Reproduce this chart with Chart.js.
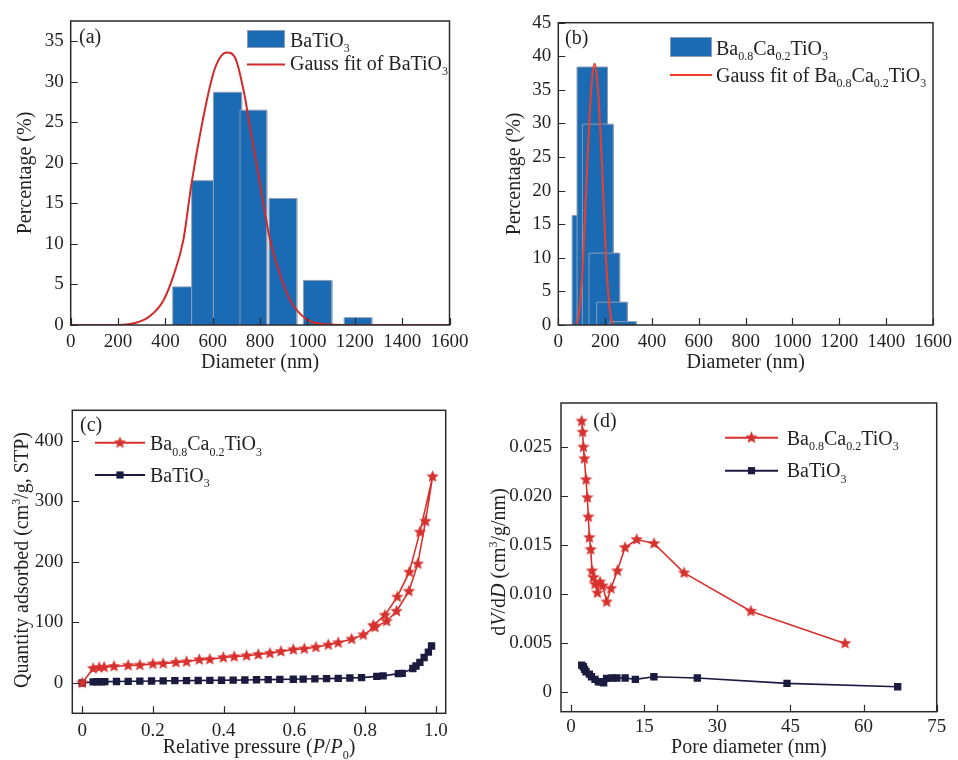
<!DOCTYPE html>
<html>
<head>
<meta charset="utf-8">
<script src="https://cdn.jsdelivr.net/npm/chart.js@4.4.0/dist/chart.umd.min.js"></script>
<style>
  body { margin: 0; background: #fff; }
  #wrap { position: relative; width: 958px; height: 760px; }
  canvas { position: absolute; }
</style>
</head>
<body>
<div id="wrap">
  <canvas id="chartA" width="480" height="380" style="left:0;top:0"></canvas>
  <canvas id="chartB" width="478" height="380" style="left:480px;top:0"></canvas>
  <canvas id="chartC" width="480" height="380" style="left:0;top:380px"></canvas>
  <canvas id="chartD" width="478" height="380" style="left:480px;top:380px"></canvas>
</div>
<script>
// (a) BaTiO3 particle size histogram (bin start, bin end, %) and its Gauss fit
const btoBinLo = [431, 511, 603, 715, 838, 983, 1155];
const btoBinHi = [511, 603, 722, 828, 955, 1103, 1272];
const btoPct = [4.7, 17.8, 28.7, 26.5, 15.6, 5.5, 0.9];
const btoFitX = [0, 200, 279, 335, 391, 433, 476, 511, 560, 602, 631, 661, 694, 736, 757, 792, 842, 870, 926, 997, 1081, 1150, 1600];
const btoFitY = [0, 0, 0.3, 1.1, 3.0, 6.0, 10.5, 17.6, 25.6, 31.0, 33.0, 33.6, 33.0, 28.1, 24.4, 18.7, 10.5, 7.5, 3.1, 0.7, 0.08, 0, 0];

// (b) Ba0.8Ca0.2TiO3 particle size histogram and Gauss fit
const bctBinLo = [59, 80, 103, 131, 164, 218];
const bctBinHi = [189, 210, 235, 262, 295, 333];
const bctPct = [16.3, 38.4, 29.9, 10.7, 3.4, 0.5];
const bctFitX = [75, 85, 95, 105, 115, 125, 135, 145, 155, 165, 175, 185, 195, 205, 215, 225, 235];
const bctFitY = [0, 1, 4, 9, 17, 25, 32, 37, 38.9, 37, 32, 25, 17, 9, 4, 1, 0];

// (c) N2 isotherms: relative pressure vs quantity adsorbed
const bctIsoP = [0, 0.031, 0.048, 0.062, 0.09, 0.13, 0.163, 0.2, 0.229, 0.265, 0.295, 0.331, 0.361, 0.399, 0.43, 0.465, 0.498, 0.531, 0.562, 0.597, 0.628, 0.661, 0.696, 0.724, 0.762, 0.795, 0.828, 0.861, 0.889, 0.924, 0.949, 0.971, 0.991,
                 0.955, 0.925, 0.891, 0.856, 0.823];
const bctIsoQ = [0, 24, 25.5, 26, 27.5, 29, 29.5, 31.5, 32, 34, 35, 38.5, 39, 42, 43.5, 45, 47, 49, 52, 55, 56.5, 59, 63, 66.5, 72.5, 79.5, 92, 102, 118.5, 151.5, 196.5, 267, 340.5,
                 249, 183, 142, 112, 95];
const btoIsoP = [0, 0.031, 0.042, 0.055, 0.064, 0.097, 0.13, 0.163, 0.196, 0.229, 0.262, 0.295, 0.328, 0.361, 0.394, 0.427, 0.46, 0.493, 0.526, 0.559, 0.597, 0.625, 0.658, 0.691, 0.724, 0.757, 0.79, 0.833, 0.851, 0.894, 0.905, 0.935, 0.944, 0.955, 0.967, 0.979, 0.988];
const btoIsoQ = [0, 1.8, 2, 2.1, 2.2, 2.5, 2.8, 3, 3.3, 3.5, 3.8, 4, 4.2, 4.4, 4.6, 4.8, 5, 5.3, 5.6, 5.9, 6.2, 6.5, 6.9, 7.3, 7.7, 8.2, 8.8, 11, 11.7, 15.5, 16, 24, 28, 34, 42, 51, 61];

// (d) pore size distribution: pore diameter (nm) vs dV/dD
const bctPoreD = [2.19, 2.39, 2.53, 2.74, 3.08, 3.35, 3.56, 3.76, 4.04, 4.31, 4.58, 4.92, 5.4, 5.95, 6.5, 7.33, 8.2, 9.5, 11.08, 13.48, 17.03, 23.19, 36.9, 56.2];
const bctPoreV = [0.02765, 0.02653, 0.0250, 0.02381, 0.02167, 0.01983, 0.01786, 0.01575, 0.01453, 0.01235, 0.01167, 0.01099, 0.0101, 0.01122, 0.01082, 0.00918, 0.01055, 0.01235, 0.01473, 0.01555, 0.01514, 0.01214, 0.00823, 0.00494];
const btoPoreD = [2.19, 2.53, 2.8, 3.08, 3.76, 4.2, 4.92, 5.6, 6.2, 6.7, 7.3, 8.4, 9.4, 11.1, 13.2, 17, 25.9, 44.3, 67];
const btoPoreV = [0.00272, 0.00255, 0.00228, 0.00204, 0.0018, 0.00153, 0.00126, 0.00102, 0.00102, 0.00092, 0.00136, 0.0014, 0.0014, 0.0014, 0.00126, 0.00153, 0.0014, 0.00085, 0.00051];

// tick values
const diamTicks = [0, 200, 400, 600, 800, 1000, 1200, 1400, 1600];
const pctTicksA = [0, 5, 10, 15, 20, 25, 30, 35];
const pctTicksB = [0, 5, 10, 15, 20, 25, 30, 35, 40, 45];
const pressTicks = [0, 0.2, 0.4, 0.6, 0.8, 1.0];
const qtyTicks = [0, 100, 200, 300, 400];
const poreTicks = [0, 15, 30, 45, 60, 75];
const dvTicks = [0, 0.005, 0.010, 0.015, 0.020, 0.025];

const SERIF = '"Liberation Serif", "Times New Roman", serif';
const INK = '#231f20';
const BAR_BLUE = '#1a6ab4';
const BAR_EDGE = '#8b9cb4';
const RED = '#d7312e';
const NAVY = '#1b1b40';

Chart.defaults.font.family = SERIF;
Chart.defaults.font.size = 19;
Chart.defaults.color = INK;

function starImage(r, color) {
  const c = document.createElement('canvas');
  const size = Math.ceil(r * 2 + 2);
  c.width = c.height = size;
  const g = c.getContext('2d');
  g.beginPath();
  for (let i = 0; i < 10; i++) {
    const rad = i % 2 ? r * 0.45 : r;
    const a = -Math.PI / 2 + i * Math.PI / 5;
    g.lineTo(size / 2 + rad * Math.cos(a), size / 2 + rad * Math.sin(a));
  }
  g.closePath();
  g.fillStyle = color;
  g.fill();
  return c;
}
const STAR = starImage(6.5, RED);

// rich text: parts are [text, kind] with kind 'sub' | 'sup' | 'i' | undefined
function fontFor(kind, size) {
  const s = (kind === 'sub' || kind === 'sup') ? Math.round(size * 0.62) : size;
  return (kind === 'i' ? 'italic ' : '') + s + 'px ' + SERIF;
}
function richWidth(ctx, parts, size) {
  let w = 0;
  parts.forEach(([t, k]) => { ctx.font = fontFor(k, size); w += ctx.measureText(t).width; });
  return w;
}
function drawRich(ctx, x, y, parts, center) {
  const size = 20;
  ctx.save();
  ctx.textBaseline = 'alphabetic';
  ctx.textAlign = 'left';
  ctx.fillStyle = INK;
  let cx = center ? x - richWidth(ctx, parts, size) / 2 : x;
  parts.forEach(([t, k]) => {
    ctx.font = fontFor(k, size);
    const dy = k === 'sub' ? size * 0.28 : k === 'sup' ? -size * 0.4 : 0;
    ctx.fillText(t, cx, y + dy);
    cx += ctx.measureText(t).width;
  });
  ctx.restore();
}
function yTitle(ctx, x, y, parts) {
  ctx.save();
  ctx.translate(x, y);
  ctx.rotate(-Math.PI / 2);
  drawRich(ctx, 0, 0, parts, true);
  ctx.restore();
}
function legendLine(ctx, x0, x1, y, color, marker) {
  ctx.save();
  ctx.strokeStyle = color;
  ctx.lineWidth = 2;
  ctx.beginPath();
  ctx.moveTo(x0, y);
  ctx.lineTo(x1, y);
  ctx.stroke();
  const mx = (x0 + x1) / 2;
  if (marker === 'star') ctx.drawImage(STAR, mx - STAR.width / 2, y - STAR.height / 2);
  if (marker === 'square') { ctx.fillStyle = color; ctx.fillRect(mx - 3.6, y - 3.6, 7.2, 7.2); }
  ctx.restore();
}

// frame box, inward ticks and annotations drawn over the plot
function decor(extras) {
  return {
    id: 'decor',
    afterDraw(chart) {
      const ctx = chart.ctx;
      const a = chart.chartArea;
      const sx = chart.scales.x, sy = chart.scales.y;
      ctx.save();
      ctx.strokeStyle = '#2b2b2b';
      ctx.lineWidth = 1.5;
      ctx.strokeRect(a.left, a.top, a.right - a.left, a.bottom - a.top);
      ctx.lineWidth = 1.2;
      ctx.beginPath();
      sx.ticks.forEach(t => {
        const px = Math.round(sx.getPixelForValue(t.value)) + 0.5;
        ctx.moveTo(px, a.bottom);
        ctx.lineTo(px, a.bottom - 7);
      });
      sy.ticks.forEach(t => {
        const py = Math.round(sy.getPixelForValue(t.value)) + 0.5;
        ctx.moveTo(a.left, py);
        ctx.lineTo(a.left + 7, py);
      });
      ctx.stroke();
      ctx.restore();
      extras(ctx, a);
    }
  };
}

function xAxis(min, max, ticks, height, pad, fmt) {
  return {
    type: 'linear', min, max,
    grid: { display: false, drawTicks: false },
    border: { display: false },
    afterBuildTicks: s => { s.ticks = ticks.map(v => ({ value: v })); },
    afterFit: s => { s.height = height; },
    ticks: { padding: pad, maxRotation: 0, autoSkip: false, callback: fmt || (v => String(v)) }
  };
}
function yAxis(min, max, ticks, width, pad, fmt) {
  return {
    type: 'linear', min, max,
    grid: { display: false, drawTicks: false },
    border: { display: false },
    afterBuildTicks: s => { s.ticks = ticks.map(v => ({ value: v })); },
    afterFit: s => { s.width = width; },
    ticks: { padding: pad, autoSkip: false, callback: fmt || (v => String(v)) }
  };
}

function histogram(lo, hi, pct) {
  return pct.map((h, i) => ({
    data: [{ x: lo[i], y: 0 }, { x: lo[i], y: h }, { x: hi[i], y: h }, { x: hi[i], y: 0 }],
    fill: 'origin',
    backgroundColor: BAR_BLUE,
    borderColor: BAR_EDGE,
    borderWidth: 1,
    pointRadius: 0,
    order: 100 - i
  }));
}
function xy(xs, ys) { return xs.map((x, i) => ({ x, y: ys[i] })); }

function baseOptions(padding, scales) {
  return {
    responsive: false,
    animation: false,
    events: [],
    layout: { padding },
    scales,
    plugins: { legend: { display: false }, tooltip: { enabled: false } }
  };
}

const batio3 = [['BaTiO'], ['3', 'sub']];
const bct = [['Ba'], ['0.8', 'sub'], ['Ca'], ['0.2', 'sub'], ['TiO'], ['3', 'sub']];

// (a)
new Chart(document.getElementById('chartA'), {
  type: 'line',
  data: {
    datasets: [
      ...histogram(btoBinLo, btoBinHi, btoPct),
      { data: xy(btoFitX, btoFitY), borderColor: '#d22a2a', borderWidth: 2, pointRadius: 0,
        cubicInterpolationMode: 'monotone', fill: false, order: 0 }
    ]
  },
  options: baseOptions({ left: 0, top: 21, right: 30.5, bottom: 0 }, {
    x: xAxis(0, 1600, diamTicks, 55, 6),
    y: yAxis(0, 37.5, pctTicksA, 70.7, 7)
  }),
  plugins: [decor((ctx, a) => {
    ctx.fillStyle = BAR_BLUE;
    ctx.fillRect(247, 30, 38, 18);
    ctx.strokeStyle = BAR_EDGE;
    ctx.lineWidth = 1;
    ctx.strokeRect(247.5, 30.5, 37, 17);
    drawRich(ctx, 290, 46.5, batio3);
    legendLine(ctx, 247, 285, 64.5, '#d22a2a');
    drawRich(ctx, 290, 69.5, [['Gauss fit of BaTiO'], ['3', 'sub']]);
    drawRich(ctx, 79, 43, [['(a)']]);
    drawRich(ctx, (a.left + a.right) / 2, 368, [['Diameter (nm)']], true);
    yTitle(ctx, 31, (a.top + a.bottom) / 2, [['Percentage (%)']]);
  })]
});

// (b)
new Chart(document.getElementById('chartB'), {
  type: 'line',
  data: {
    datasets: [
      ...histogram(bctBinLo, bctBinHi, bctPct),
      { data: xy(bctFitX, bctFitY), borderColor: '#ef3e28', borderWidth: 2, pointRadius: 0,
        cubicInterpolationMode: 'monotone', fill: false, order: 0 }
    ]
  },
  options: baseOptions({ left: 0, top: 22.7, right: 19.7, bottom: 0 }, {
    x: xAxis(0, 1600, diamTicks, 55, 6),
    y: yAxis(0, 45, pctTicksB, 78.3, 7)
  }),
  plugins: [decor((ctx, a) => {
    ctx.fillStyle = BAR_BLUE;
    ctx.fillRect(190, 37, 42, 20);
    ctx.strokeStyle = BAR_EDGE;
    ctx.lineWidth = 1;
    ctx.strokeRect(190.5, 37.5, 41, 19);
    drawRich(ctx, 236, 54.5, bct);
    legendLine(ctx, 190, 232, 75, '#ef3e28');
    drawRich(ctx, 236, 81.5, [['Gauss fit of Ba'], ['0.8', 'sub'], ['Ca'], ['0.2', 'sub'], ['TiO'], ['3', 'sub']]);
    drawRich(ctx, 85, 44, [['(b)']]);
    drawRich(ctx, (a.left + a.right) / 2, 368, [['Diameter (nm)']], true);
    yTitle(ctx, 40, (a.top + a.bottom) / 2, [['Percentage (%)']]);
  })]
});

// (c)
new Chart(document.getElementById('chartC'), {
  type: 'line',
  data: {
    datasets: [
      { data: xy(bctIsoP, bctIsoQ), borderColor: RED, borderWidth: 1.6, pointStyle: STAR, pointRadius: 6, order: 0 },
      { data: xy(btoIsoP, btoIsoQ), borderColor: NAVY, backgroundColor: NAVY, borderWidth: 1.6,
        pointStyle: 'rect', pointRadius: 5.2, pointBorderWidth: 0, order: 1 }
    ]
  },
  options: baseOptions({ left: 0, top: 30.3, right: 34.3, bottom: 0 }, {
    x: xAxis(-0.028, 1.028, pressTicks, 46.7, 6, v => v === 0 ? '0' : v.toFixed(1)),
    y: yAxis(-50, 450, qtyTicks, 72.3, 9)
  }),
  plugins: [decor((ctx, a) => {
    legendLine(ctx, 95, 145, 62.7, RED, 'star');
    drawRich(ctx, 150, 70, bct);
    legendLine(ctx, 95, 145, 95, NAVY, 'square');
    drawRich(ctx, 150, 101.7, batio3);
    drawRich(ctx, 80, 51, [['(c)']]);
    drawRich(ctx, (a.left + a.right) / 2, 373,
      [['Relative pressure ('], ['P', 'i'], ['/'], ['P', 'i'], ['0', 'sub'], [')']], true);
    yTitle(ctx, 28, 180, [['Quantity adsorbed (cm'], ['3', 'sup'], ['/g, STP)']]);
  })]
});

// (d)
new Chart(document.getElementById('chartD'), {
  type: 'line',
  data: {
    datasets: [
      { data: xy(bctPoreD, bctPoreV), borderColor: RED, borderWidth: 1.6, pointStyle: STAR, pointRadius: 6, order: 0 },
      { data: xy(btoPoreD, btoPoreV), borderColor: NAVY, backgroundColor: NAVY, borderWidth: 1.6,
        pointStyle: 'rect', pointRadius: 5.2, pointBorderWidth: 0, order: 1 }
    ]
  },
  options: baseOptions({ left: 0, top: 23, right: 21.3, bottom: 0 }, {
    x: xAxis(-2.05, 75, poreTicks, 48.3, 4),
    y: yAxis(-0.00204, 0.0295, dvTicks, 81, 9, v => v === 0 ? '0' : v.toFixed(3))
  }),
  plugins: [decor((ctx, a) => {
    legendLine(ctx, 245, 298, 57.7, RED, 'star');
    drawRich(ctx, 306.7, 64.5, bct);
    legendLine(ctx, 245, 298, 90.7, NAVY, 'square');
    drawRich(ctx, 306.7, 97, batio3);
    drawRich(ctx, 113.3, 47, [['(d)']]);
    drawRich(ctx, (a.left + a.right) / 2, 373, [['Pore diameter (nm)']], true);
    yTitle(ctx, 25, 182, [['d'], ['V', 'i'], ['/d'], ['D', 'i'], [' (cm'], ['3', 'sup'], ['/g/nm)']]);
  })]
});
</script>
</body>
</html>
